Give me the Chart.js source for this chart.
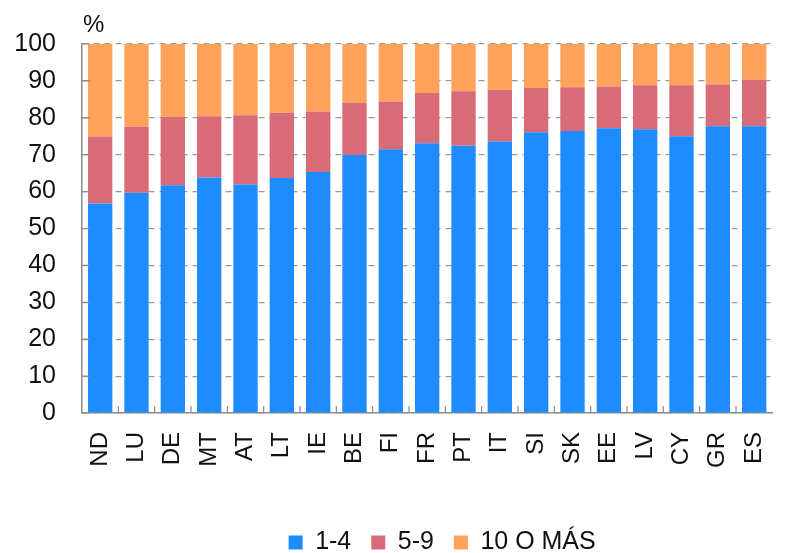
<!DOCTYPE html>
<html>
<head>
<meta charset="utf-8">
<script src="https://cdn.jsdelivr.net/npm/chart.js@4/dist/chart.umd.min.js"></script>
<style>
  html, body { margin: 0; padding: 0; background: #fff; }
  #wrap { width: 802px; height: 553px; }
</style>
</head>
<body>
<div id="wrap"><canvas id="chart"></canvas></div>
<script>
/* Data */
const countries = ["ND","LU","DE","MT","AT","LT","IE","BE","FI","FR","PT","IT","SI","SK","EE","LV","CY","GR","ES"]
const small = [56.8,59.7,61.7,63.8,61.9,63.7,65.3,69.9,71.5,73.1,72.4,73.6,76.1,76.4,77.2,76.9,75.0,77.7,77.7]
const medium = [18.1,17.9,18.5,16.6,18.8,17.7,16.4,14.1,12.9,13.6,14.8,14.0,12.0,11.9,11.3,11.9,13.8,11.3,12.6]
const large = [25.1,22.4,19.8,19.6,19.3,18.6,18.3,16.0,15.6,13.3,12.8,12.4,11.9,11.7,11.5,11.2,11.2,11.0,9.7]
const seriesNames = ["1-4", "5-9", "10 O MÁS"]
const unitLabel = "%"

const FONT = "'Liberation Sans', Arial, Helvetica, sans-serif"
const AXIS_GREY = "#8c8c8c"

/* legend sits a bit lower and more to the right than chart.js puts it */
const legendShift = {
    id: "legendShift",
    beforeInit(chart){
        const fit = chart.legend.fit
        chart.legend.fit = function(){
            fit.bind(chart.legend)()
            this.height -= 12
        }
    },
    afterLayout(chart){
        chart.legend.left += 15
        chart.legend.right += 15
    }
}

/* inward tick marks + unit label */
const extras = {
    id: "extras",
    afterDraw(chart){
        const ctx = chart.ctx
        const area = chart.chartArea
        const x = chart.scales.x
        const y = chart.scales.y
        ctx.save()
        ctx.strokeStyle = AXIS_GREY
        ctx.lineWidth = 1.2
        ctx.beginPath()
        y.ticks.forEach(function(t, i){
            const py = y.getPixelForTick(i)
            ctx.moveTo(area.left, py)
            ctx.lineTo(area.left + 8, py)
        })
        for(let i=1; i<countries.length; i++){
            const px = (x.getPixelForValue(i-1) + x.getPixelForValue(i)) / 2
            ctx.moveTo(px, area.bottom)
            ctx.lineTo(px, area.bottom - 7)
        }
        ctx.stroke()

        ctx.fillStyle = "#111"
        ctx.font = "24px " + FONT
        ctx.textAlign = "left"
        ctx.textBaseline = "alphabetic"
        ctx.fillText(unitLabel, area.left + 1, area.top - 12)
        ctx.restore()
    }
}

new Chart(document.getElementById("chart"), {
    type: "bar",
    data: {
        labels: countries,
        datasets: [
            {label: seriesNames[0], data: small, backgroundColor: "#1e8cff"},
            {label: seriesNames[1], data: medium, backgroundColor: "#d96a77"},
            {label: seriesNames[2], data: large, backgroundColor: "#ffa35c"},
        ]
    },
    options: {
        responsive: true,
        maintainAspectRatio: false,
        animation: false,
        barPercentage: 0.67,
        categoryPercentage: 1.0,
        layout: {
            padding: {top: 44, left: 0, right: 1, bottom: 0}
        },
        plugins: {
            legend: {
                position: "bottom",
                fullSize: false,
                labels: {
                    boxWidth: 14,
                    boxHeight: 14,
                    padding: 20,
                    color: "#111",
                    font: {family: FONT, size: 25}
                }
            },
            tooltip: {enabled: false}
        },
        scales: {
            x: {
                stacked: true,
                grid: {display: false, drawTicks: false},
                border: {display: true, color: AXIS_GREY, width: 1.5},
                ticks: {
                    color: "#111",
                    font: {family: FONT, size: 24},
                    minRotation: 90,
                    maxRotation: 90,
                    padding: 19
                },
                afterFit: function(scale){ scale.height += 23 }
            },
            y: {
                stacked: true,
                min: 0,
                max: 100,
                ticks: {
                    stepSize: 10,
                    color: "#111",
                    font: {family: FONT, size: 25},
                    padding: 26
                },
                grid: {
                    color: "#9a9a9a",
                    lineWidth: 1.2,
                    drawTicks: false
                },
                border: {display: true, color: AXIS_GREY, width: 1.5, dash: [6, 5]},
                afterFit: function(scale){ scale.width = 82 }
            }
        }
    },
    plugins: [extras, legendShift]
});
</script>
</body>
</html>
